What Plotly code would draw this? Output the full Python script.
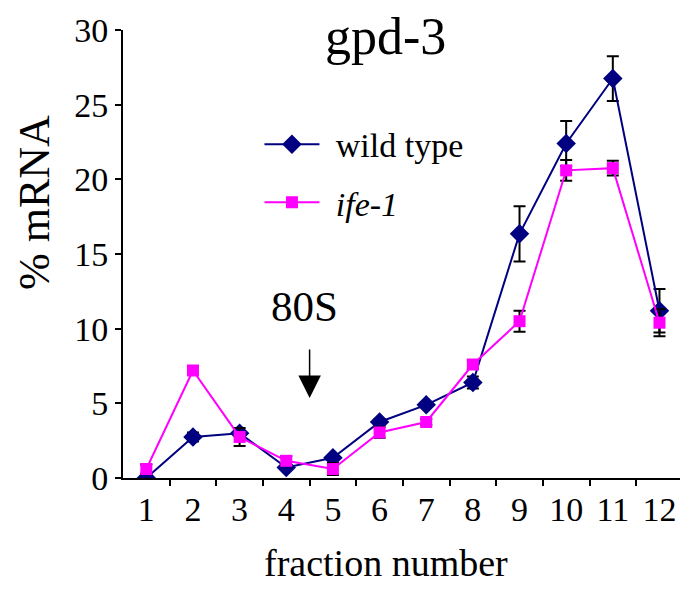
import plotly.graph_objects as go

fractions = list(range(1, 13))
wild_type = [0.0, 2.75, 3.0, 0.7, 1.35, 3.75, 4.9, 6.4, 16.35, 22.4, 26.75, 11.2]
wild_type_err = [0.1, 0.3, 0.15, 0.15, 0.15, 0.2, 0.15, 0.4, 1.85, 1.5, 1.5, 1.45]
ife1 = [0.6, 7.2, 2.75, 1.15, 0.6, 3.05, 3.75, 7.6, 10.5, 20.6, 20.75, 10.4]
ife1_err = [0.3, 0.25, 0.6, 0.3, 0.4, 0.35, 0.2, 0.3, 0.7, 0.7, 0.5, 0.9]
y_ticks = [0, 5, 10, 15, 20, 25, 30]

FONT = "Liberation Serif, Times New Roman, serif"
NAVY = "#000080"
MAGENTA = "#FF00FF"
GAP = "\u00a0\u200a"

fig = go.Figure()
fig.add_trace(go.Scatter(
    x=fractions, y=wild_type, name=GAP + "wild type", mode="lines+markers",
    line=dict(color=NAVY, width=2),
    marker=dict(symbol="diamond", size=15, color=NAVY),
    error_y=dict(type="data", array=wild_type_err, color="black", thickness=2, width=6),
    legendgroup="a",
))
fig.add_trace(go.Scatter(
    x=fractions, y=ife1, name=GAP + "<i>ife-1</i>", mode="lines+markers",
    line=dict(color=MAGENTA, width=2),
    marker=dict(symbol="square", size=12, color=MAGENTA),
    error_y=dict(type="data", array=ife1_err, color="black", thickness=2, width=6),
    legendgroup="b",
))

fig.update_layout(
    width=680, height=592,
    margin=dict(l=123, r=0, t=30, b=114),
    plot_bgcolor="white", paper_bgcolor="white",
    font=dict(family=FONT, color="black", size=34),
    showlegend=True,
    legend=dict(x=0.245, y=0.809, xanchor="left", yanchor="top",
                font=dict(size=34, family=FONT), bgcolor="rgba(0,0,0,0)",
                traceorder="grouped", tracegroupgap=11, itemwidth=55),
    xaxis=dict(range=[0.5, 12.44], tickvals=fractions, ticktext=[str(f) for f in fractions],
               ticks="", showline=True, linecolor="black", linewidth=2,
               showgrid=False, zeroline=False, tickfont=dict(size=34, family=FONT),
               minor=dict(tickvals=[f + 0.5 for f in fractions], ticks="outside",
                          ticklen=6, tickwidth=2, tickcolor="black", showgrid=False)),
    yaxis=dict(range=[0, 30], tickvals=y_ticks, ticks="outside", ticklen=6, tickwidth=2,
               tickcolor="black", showline=True, linecolor="black", linewidth=2,
               showgrid=False, zeroline=False, tickfont=dict(size=34, family=FONT)),
    annotations=[
        dict(text="gpd-3", xref="paper", yref="paper", x=0.472, y=0.985,
             showarrow=False, font=dict(size=52, family=FONT), xanchor="center", yanchor="middle"),
        dict(text="% mRNA", xref="paper", yref="paper", x=-0.16, y=0.616, textangle=-90,
             showarrow=False, font=dict(size=44, family=FONT), xanchor="center", yanchor="middle"),
        dict(text="fraction number", xref="paper", yref="paper", x=0.472, y=-0.19,
             showarrow=False, font=dict(size=38, family=FONT), xanchor="center", yanchor="middle"),
        dict(text="80S", xref="x", yref="y", x=4.39, y=11.5,
             showarrow=False, font=dict(size=43, family=FONT), xanchor="center", yanchor="middle"),
        dict(text="", xref="x", yref="y", x=4.5, y=5.36, axref="x", ayref="y", ax=4.5, ay=8.7,
             showarrow=True, arrowhead=2, arrowsize=3, arrowwidth=1.5, arrowcolor="black"),
    ],
)

fig.write_html("out.html")
